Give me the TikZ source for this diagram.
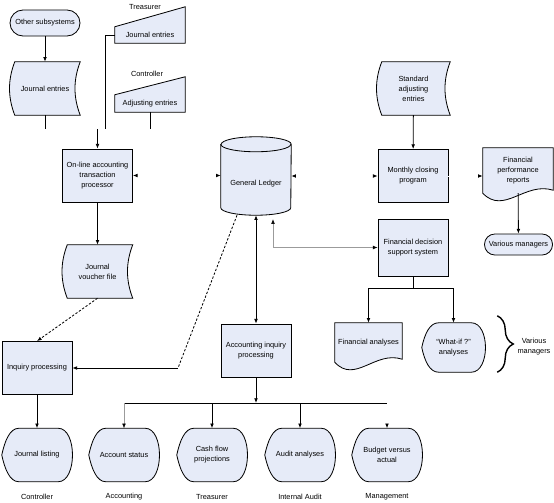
\documentclass[tikz,border=0pt]{standalone}
\usepackage{fontspec}
\setmainfont{Liberation Sans}
\usetikzlibrary{arrows.meta,calc,backgrounds,decorations.pathreplacing}
\definecolor{boxfill}{RGB}{230,235,248}
\definecolor{linkgray}{RGB}{155,155,155}

\begin{document}
\begin{tikzpicture}[x=0.03cm, y=-0.03cm, >={Latex[length=4pt,width=3.2pt]},
    font=\fontsize{6.3}{8.5}\selectfont,
    base/.style={rectangle, inner sep=1pt, align=center, minimum width=2.1cm, minimum height=1.59cm},
    block/.style={base, draw=black, fill=boxfill, line width=0.7pt},
    terminal/.style={block, rounded corners=0.39cm, minimum height=0.78cm},
    storedata/.style={base},
    manual/.style={base},
    cyl/.style={base},
    docshape/.style={base},
    display/.style={base},
    tag/.style={inner sep=0pt, align=center},
    outline/.style={draw=black, fill=boxfill, line width=0.7pt},
    plain/.style={draw=black, line width=0.7pt},
    line/.style={plain, ->},
    lineboth/.style={plain, <->},
    dashplain/.style={plain, dash pattern=on 2pt off 1.5pt},
    grayline/.style={draw=linkgray, line width=0.5pt, -{Latex[length=4pt,width=3.2pt,color=black]}},
    grayboth/.style={draw=linkgray, line width=0.5pt, {Latex[length=4pt,width=3.2pt,color=black]}-{Latex[length=4pt,width=3.2pt,color=black]}},
    ghost/.style={draw=white, line width=0.7pt, -{Latex[length=4pt,width=3.2pt,color=black]}},
    ghostboth/.style={draw=white, line width=0.7pt, {Latex[length=4pt,width=3.2pt,color=black]}-{Latex[length=4pt,width=3.2pt,color=black]}}]

    \useasboundingbox (0,0) rectangle (554,503);

    \node [terminal] (others) at (45,23) {Other subsystems};
    \node [storedata] (jentries) at (45,88.5) {Journal entries};
    \node [tag] (treaslabel) at (145,6.5) {Treasurer};
    \node [manual, minimum height=0.48cm] (treasjrn) at (150,35) {Journal entries};
    \node [tag] (ctrllabel) at (147,74) {Controller};
    \node [manual, minimum height=0.51cm] (adjust) at (150,103.5) {Adjusting entries};
    \node [block] (online) at (97.5,175.5) {On-line accounting\\transaction\\processor};
    \node [storedata] (voucher) at (97.5,271.5) {Journal\\voucher file};
    \node [block] (inquiry) at (37,368) {Inquiry processing};
    \node [cyl, minimum height=1.89cm] (ledger) at (256,183.5) {General Ledger};
    \node [storedata, minimum width=2.19cm] (stdadj) at (413.5,88.5) {Standard\\adjusting\\entries};
    \node [block] (closing) at (413,176) {Monthly closing\\program};
    \node [block, minimum height=1.71cm] (support) at (413,247.5) {Financial decision\\support system};
    \node [docshape, minimum height=1.35cm] (perf) at (518,170.5) {Financial\\performance\\reports};
    \node [terminal, minimum width=2.04cm, minimum height=0.63cm, rounded corners=0.31cm] (managers) at (518.5,244.5) {Various managers};
    \node [docshape, minimum width=2.01cm, minimum height=1.17cm] (fanalyses) at (368.5,342.5) {Financial analyses};
    \node [display, minimum width=1.89cm, minimum height=1.47cm] (whatif) at (453.5,347.5) {“What-if ?”\\analyses};
    \node [tag] (vmlabel) at (534,347) {Various\\managers};
    \node [block] (acctinq) at (256,350.5) {Accounting inquiry\\processing};

    \node [display] (jlisting) at (37,455) {Journal listing};
    \node [display] (acstat) at (124,455) {Account status};
    \node [display] (cash) at (212,455) {Cash flow\\projections};
    \node [display] (audit) at (300,455) {Audit analyses};
    \node [display] (budget) at (387,455) {Budget versus\\actual};
    \node [tag] (ctrlrole) at (37,497) {Controller};
    \node [tag] (acctrole) at (124,497) {Accounting};
    \node [tag] (treasrole) at (212,497) {Treasurer};
    \node [tag] (auditrole) at (300,497) {Internal Audit};
    \node [tag] (mgmtrole) at (387,497) {Management};

    \begin{scope}[on background layer]
        \foreach \n in {jentries,voucher,stdadj}
            \draw [outline] ($(\n.north west)+(5,0)$) -- (\n.north east)
                .. controls ($(\n.north east)+(-7,18)$) and ($(\n.south east)+(-7,-18)$) .. (\n.south east)
                -- ($(\n.south west)+(5,0)$)
                .. controls ($(\n.south west)+(-2,-18)$) and ($(\n.north west)+(-2,18)$) .. cycle;
        \foreach \n/\r in {treasjrn/20,adjust/18}
            \draw [outline] (\n.south west) -- (\n.north west) -- ($(\n.north east)+(0,-\r)$) -- (\n.south east) -- cycle;
        \foreach \n in {perf,fanalyses}
            \draw [outline] (\n.north west) -- (\n.north east) -- ($(\n.south east)+(0,-3)$)
                .. controls ($(\n.south east)!0.4!(\n.south west)+(0,-12)$) and ($(\n.south east)!0.7!(\n.south west)+(0,22)$) .. (\n.south west) -- cycle;
        \foreach \n in {whatif,jlisting,acstat,cash,audit,budget}
            \draw [outline] (\n.west)
                .. controls ($(\n.west)+(3,-14)$) and ($(\n.north west)+(8,0)$) .. ($(\n.north west)+(17,0)$)
                -- ($(\n.north east)+(-14,0)$)
                .. controls ($(\n.north east)+(5,0)$) and ($(\n.south east)+(5,0)$) .. ($(\n.south east)+(-14,0)$)
                -- ($(\n.south west)+(17,0)$)
                .. controls ($(\n.south west)+(8,0)$) and ($(\n.west)+(3,14)$) .. cycle;
        \draw [outline] ($(ledger.north west)+(0,-7.5)$) -- ($(ledger.south west)+(0,-7.5)$)
            arc [start angle=180, end angle=360, x radius=1.05cm, y radius=0.225cm]
            -- ($(ledger.north east)+(0,-7.5)$)
            arc [start angle=0, end angle=180, x radius=1.05cm, y radius=0.225cm] -- cycle;
        \draw [plain] ($(ledger.north west)+(0,-7.5)$)
            arc [start angle=180, end angle=360, x radius=1.05cm, y radius=0.225cm];
    \end{scope}

    \coordinate (merge) at (97.5,129);
    \coordinate (bend) at (178,368);
    \coordinate (split) at (413,288);
    \coordinate (bus) at (256,403);

    \path [line] (others) -- (jentries);
    \path [plain] (jentries) -- (jentries |- merge);
    \path [plain] (treasjrn.west) -| ($(merge)+(7.5,0)$);
    \path [plain] (adjust) -- (adjust |- merge);
    \path [line] (merge) -- (online);
    \path [ghostboth] (online) -- (online -| ledger.west);
    \path [ghostboth] (ledger.east |- closing) -- (closing);
    \path [ghost] (closing) -- (closing -| perf.west);
    \path [line] (stdadj) -- (closing);
    \path [line] (online) -- (voucher);
    \path [dashplain, ->] (voucher.south) -- (inquiry.north);
    \path [dashplain] ($(ledger.south)+(-19,0)$) -- (bend);
    \path [line] (bend) -- (inquiry);
    \path [lineboth] (ledger) -- (acctinq);
    \path [grayboth] ($(ledger.south)+(17,4)$) |- (support);
    \path [plain] (support) -- (split);
    \path [plain] (fanalyses |- split) -- (whatif |- split);
    \path [line] (fanalyses |- split) -- (fanalyses);
    \path [line] (whatif |- split) -- (whatif);
    \path [line] (perf) -- (managers);
    \path [line] (acctinq) -- (bus);
    \path [plain] (acstat |- bus) -- (budget |- bus);
    \path [grayline] (acstat |- bus) -- (acstat);
    \path [line] (cash |- bus) -- (cash);
    \path [line] (audit |- bus) -- (audit);
    \path [ghost] (budget |- bus) -- (budget);
    \path [line] (inquiry) -- (jlisting);
    \draw [decorate, decoration={brace, amplitude=0.48cm}, line width=1.2pt]
        ($(whatif.north east)+(12,-7)$) -- ($(whatif.south east)+(12,0)$);
  \end{tikzpicture}
\end{document}
